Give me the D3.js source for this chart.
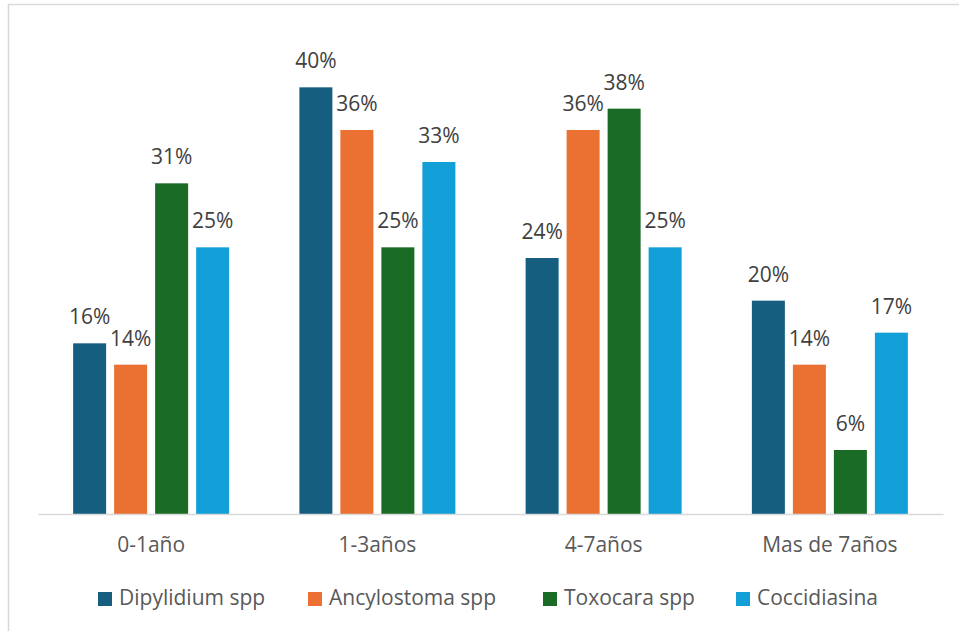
<!DOCTYPE html>
<html>
<head>
<meta charset="utf-8">
<script src="https://cdn.jsdelivr.net/npm/d3@7"></script>
<style>
  html, body { margin: 0; padding: 0; background: #fff; overflow: hidden; }
  svg { display: block; }
  text { font-family: "Open Sans", "Noto Sans", sans-serif; }
</style>
</head>
<body>
<svg id="chart" width="960" height="632" viewBox="0 0 960 632"></svg>
<script>
// Age groups (x axis)
const categories = ["0-1año", "1-3años", "4-7años", "Mas de 7años"];
// Parasites (series)
const seriesNames = ["Dipylidium spp", "Ancylostoma spp", "Toxocara spp", "Coccidiasina"];
const seriesColors = ["#165e80", "#ea7131", "#1a6b25", "#129fd7"];
// Percentage per series, one value per age group
const dipylidium = [16, 40, 24, 20];
const ancylostoma = [14, 36, 36, 14];
const toxocara = [31, 25, 38, 6];
const coccidiasina = [25, 33, 25, 17];
const seriesValues = [dipylidium, ancylostoma, toxocara, coccidiasina];

const svg = d3.select("#chart");
const plot = { left: 38, right: 943, top: 34, bottom: 514 };
const fontSize = 21;

// Outer chart frame (top and left edges fall inside the page)
svg.append("path")
  .attr("d", "M8.5,631V4.5H959")
  .attr("fill", "none").attr("stroke", "#d9d9d9").attr("stroke-width", 1.6);

const x0 = d3.scaleBand().domain(categories).range([plot.left, plot.right]);
const innerWidth = 156;
const x1 = d3.scaleBand().domain(seriesNames).range([0, innerWidth]).paddingInner(8 / 41).paddingOuter(0);
const y = d3.scaleLinear().domain([0, 45]).range([plot.bottom, plot.top]);

const bars = svg.append("g");
const labels = svg.append("g")
  .attr("font-size", fontSize)
  .attr("text-anchor", "middle")
  .attr("fill", "#404040");

categories.forEach((cat, ci) => {
  const gx = x0(cat) + (x0.bandwidth() - innerWidth) / 2;
  seriesNames.forEach((s, si) => {
    const v = seriesValues[si][ci];
    const bx = gx + x1(s);
    bars.append("rect")
      .attr("x", bx).attr("y", y(v))
      .attr("width", x1.bandwidth())
      .attr("height", y(0) - y(v))
      .attr("fill", seriesColors[si]);
    labels.append("text")
      .attr("x", bx + x1.bandwidth() / 2)
      .attr("y", y(v) - 19)
      .text(v + "%");
  });
});

// Category axis
const axis = svg.append("g").attr("transform", `translate(0,${plot.bottom})`)
  .call(d3.axisBottom(x0).tickSize(0).tickPadding(0));
axis.select(".domain").attr("stroke", "#d9d9d9").attr("stroke-width", 1.6);
axis.selectAll(".tick text").remove();

svg.append("g")
  .attr("font-size", fontSize)
  .attr("text-anchor", "middle")
  .attr("fill", "#595959")
  .selectAll("text")
  .data(categories)
  .join("text")
  .attr("x", d => x0(d) + x0.bandwidth() / 2)
  .attr("y", 552)
  .text(d => d);

// Legend
const legendSquares = [98, 308, 543, 736];
const legend = svg.append("g").attr("font-size", fontSize).attr("fill", "#595959");
seriesNames.forEach((name, i) => {
  legend.append("rect")
    .attr("x", legendSquares[i]).attr("y", 592)
    .attr("width", 14).attr("height", 14)
    .attr("fill", seriesColors[i]);
  legend.append("text")
    .attr("x", legendSquares[i] + 21).attr("y", 605)
    .text(name);
});
</script>
</body>
</html>
